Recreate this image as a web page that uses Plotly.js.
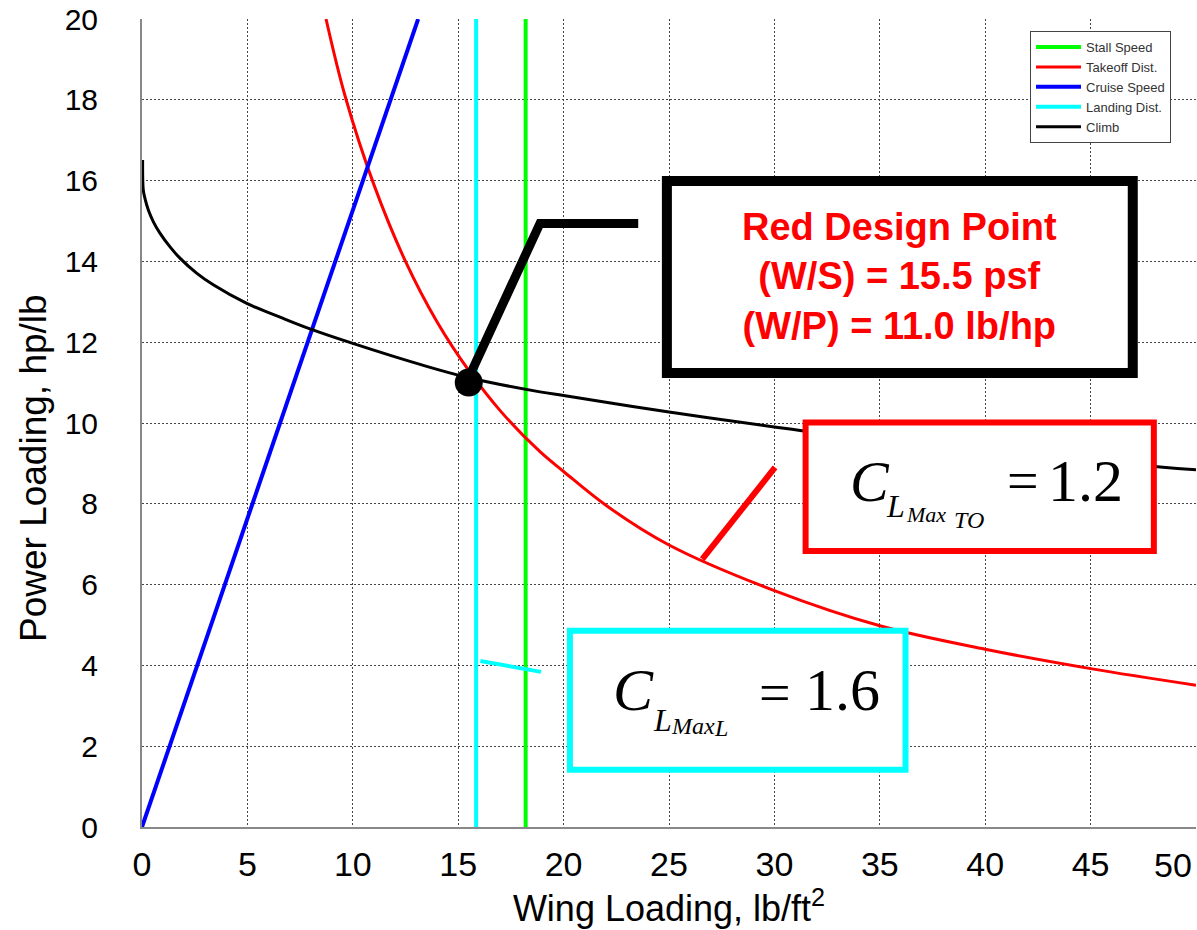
<!DOCTYPE html>
<html>
<head>
<meta charset="utf-8">
<script src="https://cdn.plot.ly/plotly-3.0.1.min.js"></script>
<style>
  html, body { margin: 0; padding: 0; background: #ffffff; }
  #chart { width: 1197px; height: 930px; }
</style>
</head>
<body>
<div id="chart"></div>
<script>
// ---------- data ----------
const xTickVals = [0, 5, 10, 15, 20, 25, 30, 35, 40, 45, 50];
const yTickVals = [0, 2, 4, 6, 8, 10, 12, 14, 16, 18, 20];

const xTitle = "Wing Loading, lb/ft<sup>2</sup>";
const yTitle = "Power Loading, hp/lb";

const seriesNames = ["Stall Speed", "Takeoff Dist.", "Cruise Speed", "Landing Dist.", "Climb"];

const stallX = [18.2, 18.2];
const stallY = [0, 20];

const takeoffX = [8.73, 9.63, 11.0, 12.5, 14.0, 15.5, 17.0, 18.88, 20.0, 22.04, 25.0, 30.0, 35.0, 40.0, 45.0, 50.0];
const takeoffY = [20.0, 18.1, 15.9, 14.0, 12.5, 11.3, 10.3, 9.29, 8.8, 7.95, 6.98, 5.85, 4.98, 4.4, 3.92, 3.51];

const cruiseX = [0, 13.1];
const cruiseY = [0, 20];

const landingX = [15.85, 15.85];
const landingY = [0, 20];

const climbX = [0.03, 0.06, 0.14, 0.30, 0.54, 0.85, 1.33, 1.80, 2.59, 3.38, 4.97, 6.55, 7.97, 10.0, 13.19, 15.5, 18.88, 20.0, 25.0, 30.0, 31.3, 40.0, 48.3, 50.0];
const climbY = [16.51, 15.77, 15.56, 15.27, 14.98, 14.70, 14.36, 14.08, 13.71, 13.42, 12.96, 12.62, 12.33, 11.97, 11.45, 11.12, 10.77, 10.68, 10.27, 9.9, 9.81, 9.31, 8.91, 8.84];

const designWS = [15.5];
const designWP = [11.0];
const clMaxTO = 1.2;
const clMaxL = 1.6;

// ---------- traces ----------
const colors = ["#00ff00", "#ff0000", "#0000ff", "#00ffff", "#000000"];
const widths = [4, 3, 4, 4, 3];
const xs = [stallX, takeoffX, cruiseX, landingX, climbX];
const ys = [stallY, takeoffY, cruiseY, landingY, climbY];

const traces = seriesNames.map((name, i) => ({
  type: "scatter",
  mode: "lines",
  name: name,
  x: xs[i],
  y: ys[i],
  line: { color: colors[i], width: widths[i], shape: (i === 1 || i === 4) ? "spline" : "linear", smoothing: 1 },
  hoverinfo: "skip"
}));

traces.push({
  type: "scatter",
  mode: "markers",
  x: designWS,
  y: designWP,
  marker: { color: "#000000", size: 28 },
  showlegend: false,
  hoverinfo: "skip"
});

// ---------- layout ----------
const serif = "Liberation Serif, Times New Roman, serif";
const sans = "Liberation Sans, Arial, sans-serif";

function txt(x, y, text, size, italic) {
  return {
    xref: "x", yref: "y", x: x, y: y,
    text: italic ? "<i>" + text + "</i>" : text,
    showarrow: false, xanchor: "left", yanchor: "middle",
    borderpad: 0,
    font: { family: serif, size: size, color: "#000000" }
  };
}

const annotations = [
  {
    xref: "x", yref: "y", x: 35.95, y: 13.62,
    text: "<b>Red Design Point<br>(W/S) = " + designWS[0].toFixed(1) + " psf<br>(W/P) = " + designWP[0].toFixed(1) + " lb/hp</b>",
    showarrow: false, xanchor: "center", yanchor: "middle",
    font: { family: sans, size: 38, color: "#ff0000" }
  },
  // C_L_Max_TO = 1.2
  txt(33.55, 8.56, "C", 58, true),
  txt(35.25, 7.95, "L", 32, true),
  txt(36.2, 7.74, "Max", 22, true),
  txt(38.45, 7.60, "TO", 24, true),
  txt(41.0, 8.56, "=", 56, false),
  txt(42.95, 8.56, clMaxTO.toFixed(1), 60, false),
  // C_L_Max_L = 1.6
  txt(22.3, 3.39, "C", 60, true),
  txt(24.2, 2.65, "L", 32, true),
  txt(25.05, 2.50, "Max", 24, true),
  txt(27.1, 2.45, "L", 24, true),
  txt(29.2, 3.32, "=", 56, false),
  txt(31.4, 3.38, clMaxL.toFixed(1), 60, false),
  // last x tick label, kept inside the figure
  {
    xref: "paper", yref: "paper", x: 1, y: 0,
    text: String(xTickVals[xTickVals.length - 1]),
    showarrow: false, xanchor: "right", yanchor: "top",
    xshift: -2, yshift: -17,
    font: { family: sans, size: 34, color: "#000000" }
  },
  // y axis title
  {
    xref: "paper", yref: "paper", x: -0.1034, y: 0.4443,
    text: yTitle, textangle: -90,
    showarrow: false, xanchor: "center", yanchor: "middle",
    font: { family: sans, size: 37, color: "#000000" }
  }
];

const shapes = [
  // black leader to design point
  { type: "path", xref: "x", yref: "y", path: "M 15.48 11.1 L 18.88 14.94 L 23.54 14.94",
    line: { color: "#000000", width: 9 }, layer: "above" },
  // red leader
  { type: "line", xref: "x", yref: "y", x0: 30.03, y0: 8.90, x1: 26.58, y1: 6.63,
    line: { color: "#ff0000", width: 6 }, layer: "above" },
  // cyan leader
  { type: "line", xref: "x", yref: "y", x0: 16.05, y0: 4.11, x1: 18.93, y1: 3.84,
    line: { color: "#00ffff", width: 4 }, layer: "above" },
  // boxes
  { type: "rect", xref: "x", yref: "y", x0: 24.9, x1: 47.0, y0: 11.24, y1: 15.99,
    line: { color: "#000000", width: 10 }, fillcolor: "#ffffff", layer: "above" },
  { type: "rect", xref: "x", yref: "y", x0: 31.48, x1: 48.0, y0: 6.83, y1: 10.01,
    line: { color: "#ff0000", width: 6 }, fillcolor: "#ffffff", layer: "above" },
  { type: "rect", xref: "x", yref: "y", x0: 20.3, x1: 36.22, y0: 1.42, y1: 4.86,
    line: { color: "#00ffff", width: 6 }, fillcolor: "#ffffff", layer: "above" }
];

const layout = {
  width: 1197,
  height: 930,
  margin: { l: 142, r: 1, t: 19, b: 103, pad: 0 },
  paper_bgcolor: "#ffffff",
  plot_bgcolor: "#ffffff",
  showlegend: true,
  legend: {
    x: 0.8425, y: 0.985, xanchor: "left", yanchor: "top",
    bgcolor: "#ffffff", bordercolor: "#444444", borderwidth: 1,
    font: { family: sans, size: 13, color: "#333333" },
    itemwidth: 45,
    tracegroupgap: 0
  },
  xaxis: {
    range: [0, 50],
    tickvals: xTickVals.slice(0, -1),
    ticktext: xTickVals.slice(0, -1).map(String),
    ticks: "",
    ticklabelstandoff: 6,
    tickfont: { family: sans, size: 34, color: "#000000" },
    showgrid: true, gridcolor: "#444444", gridwidth: 1, griddash: "2px,2px",
    showline: true, linecolor: "#888888", linewidth: 2,
    zeroline: false, fixedrange: true,
    title: { text: xTitle, font: { family: sans, size: 36, color: "#000000" }, standoff: 14 }
  },
  yaxis: {
    range: [0, 20],
    tickvals: yTickVals,
    ticktext: yTickVals.map(String),
    ticks: "",
    ticklabelstandoff: 36,
    tickfont: { family: sans, size: 30, color: "#000000" },
    showgrid: true, gridcolor: "#444444", gridwidth: 1, griddash: "2px,2px",
    showline: true, linecolor: "#888888", linewidth: 2,
    zeroline: false, fixedrange: true
  },
  shapes: shapes,
  annotations: annotations
};

Plotly.newPlot("chart", traces, layout, { staticPlot: true, displayModeBar: false });
</script>
</body>
</html>
